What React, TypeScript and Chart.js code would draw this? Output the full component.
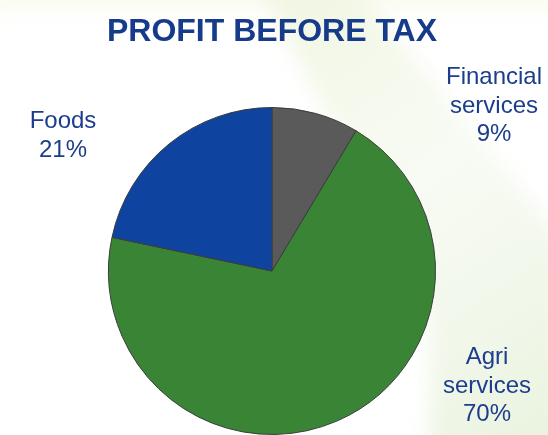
import React, { useEffect, useRef } from "react";
import { Chart, registerables } from "chart.js";

Chart.register(...registerables);

const categories = ["Financial services", "Agri services", "Foods"];
const shares = [8.6, 69.7, 21.7];
const labelLines = [["Financial", "services", "9%"], ["Agri", "services", "70%"], ["Foods", "21%"]];
const sliceColors = ["#5a5a5a", "#3a8535", "#0e44a0"];
const titleText = "PROFIT BEFORE TAX";

// label anchor (centre x, first-baseline y) for each slice
const labelAnchors = [
  { x: 494, y: 84 },
  { x: 487, y: 364 },
  { x: 63, y: 128 },
];

export default function App() {
  const ref = useRef<HTMLCanvasElement | null>(null);
  useEffect(() => {
    document.body.style.margin = "0";
    const canvas = ref.current;
    if (!canvas) return;
    const bgPlugin = {
      id: "bg",
      beforeDraw(chart: any) {
        const ctx = chart.ctx;
        ctx.save();
        ctx.fillStyle = "#ffffff";
        ctx.fillRect(0, 0, chart.width, chart.height);
        ctx.filter = "blur(10px)";
        const top = ctx.createLinearGradient(0, 0, 0, 20);
        top.addColorStop(0, "rgba(250,250,236,1)");
        top.addColorStop(1, "rgba(255,255,255,0)");
        ctx.fillStyle = top;
        ctx.fillRect(-20, -20, chart.width + 40, 40);
        const g = ctx.createLinearGradient(260, 0, 548, 435);
        g.addColorStop(0, "rgba(240,245,224,0.95)");
        g.addColorStop(0.45, "rgba(245,249,238,0.7)");
        g.addColorStop(1, "rgba(234,243,224,1)");
        ctx.fillStyle = g;
        ctx.beginPath();
        ctx.moveTo(258, -20);
        ctx.lineTo(350, -20);
        ctx.lineTo(570, 250);
        ctx.lineTo(570, 460);
        ctx.lineTo(430, 460);
        ctx.lineTo(430, 320);
        ctx.closePath();
        ctx.fill();
        ctx.restore();
      },
    };
    const textPlugin = {
      id: "texts",
      afterDraw(chart: any) {
        const ctx = chart.ctx;
        ctx.save();
        ctx.textAlign = "center";
        ctx.textBaseline = "alphabetic";
        ctx.fillStyle = "#163b8a";
        ctx.font = "bold 32px 'Liberation Sans', Arial, sans-serif";
        ctx.fillText(titleText, 272, 41);
        ctx.fillStyle = "#1c3d8c";
        ctx.font = "24px 'Liberation Sans', Arial, sans-serif";
        labelLines.forEach((lines, i) => {
          const a = labelAnchors[i];
          lines.forEach((t, j) => ctx.fillText(t, a.x, a.y + j * 28.5));
        });
        ctx.restore();
      },
    };
    const chart = new Chart(canvas, {
      type: "pie",
      data: {
        labels: categories,
        datasets: [
          {
            data: shares,
            backgroundColor: sliceColors,
            borderColor: "#3c3c3c",
            borderWidth: 1,
          },
        ],
      },
      options: {
        animation: false,
        responsive: false,
        maintainAspectRatio: false,
        layout: { padding: { top: 107, bottom: 0, left: 108, right: 112 } },
        plugins: {
          legend: { display: false },
          tooltip: { enabled: false },
          title: { display: false },
        },
      },
      plugins: [bgPlugin, textPlugin],
    });
    return () => chart.destroy();
  }, []);
  return (
    <div style={{ position: "absolute", left: 0, top: 0, width: 548, height: 435 }}>
      <canvas ref={ref} width={548} height={435} style={{ width: 548, height: 435 }} />
    </div>
  );
}
